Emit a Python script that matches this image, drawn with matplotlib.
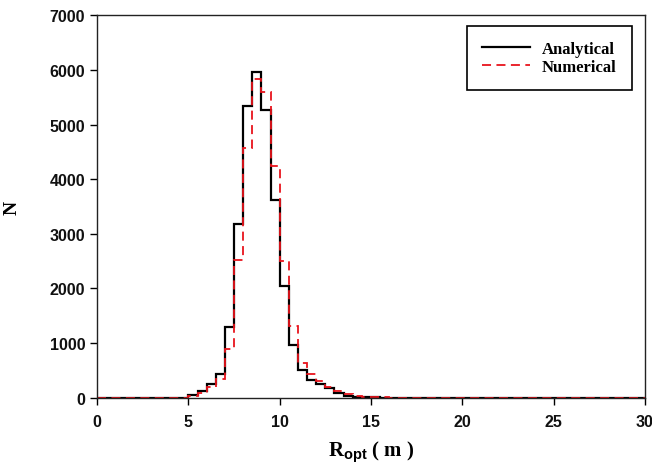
import numpy as np
import matplotlib
matplotlib.use('Agg')
from matplotlib import pyplot as plt

# histogram data, bins of 0.5 m from 0 to 30
bin_width = 0.5
analytical = [0] * 10 + [50, 130, 250, 440, 1290, 3180, 5340, 5960, 5260, 3620,
                         2050, 960, 500, 330, 250, 170, 95, 35, 20, 10,
                         6, 4, 3, 3, 2, 2, 2, 2, 3, 3,
                         4, 3, 2, 2, 1, 1, 2, 2, 1, 0] + [0] * 10
numerical = [0] * 10 + [30, 95, 200, 340, 890, 2520, 4570, 5830, 5600, 4250,
                        2500, 1320, 640, 440, 300, 200, 120, 60, 25, 12,
                        8, 5, 4, 3, 3, 2, 2, 2, 3, 3,
                        4, 3, 2, 2, 1, 1, 2, 2, 1, 0] + [0] * 10
edges = np.arange(len(analytical) + 1) * bin_width

plt.rcParams['mathtext.fontset'] = 'custom'
plt.rcParams['mathtext.bf'] = 'Liberation Serif:bold'
plt.rcParams['mathtext.sf'] = 'Liberation Sans:bold'

fig = plt.figure(figsize=(6.52, 4.77), dpi=100)
ax = fig.add_axes([0.149, 0.164, 0.840, 0.802])

ax.stairs(analytical, edges, color='black', lw=1.6, label='Analytical')
ax.stairs(numerical, edges, color='#e8141c', lw=1.3, linestyle=(0, (5, 3)),
          label='Numerical')

ax.set_xlim(0, 30)
ax.set_ylim(0, 7000)
ax.set_xticks(range(0, 31, 5))
ax.set_yticks(range(0, 7001, 1000))
ax.tick_params(direction='out', length=5, width=1, top=False, right=False)
ax.tick_params(axis='x', pad=7)
for lab in ax.get_xticklabels() + ax.get_yticklabels():
    lab.set_family('Liberation Sans')
    lab.set_fontweight('bold')
    lab.set_fontsize(11.5)
    lab.set_color('#111111')
for sp in ax.spines.values():
    sp.set_linewidth(1)
    sp.set_color('#222222')

ax.set_xlabel(r'$\mathbf{R}_{\mathsf{opt}}$ ( m )', family='Liberation Serif',
              fontweight='bold', fontsize=15, labelpad=6)
ax.set_ylabel('N', family='Liberation Serif', fontweight='bold', fontsize=14)
ax.yaxis.set_label_coords(-0.139, 0.5)

leg = ax.legend(loc='upper right', bbox_to_anchor=(0.976, 0.971),
                borderaxespad=0,
                prop={'family': 'Liberation Serif', 'weight': 'bold', 'size': 12},
                handlelength=2.9, handletextpad=0.7, fancybox=False, framealpha=1,
                edgecolor='black', borderpad=0.9, labelspacing=0.1)
leg.get_frame().set_linewidth(1.2)

fig.savefig('out.png', dpi=100)
